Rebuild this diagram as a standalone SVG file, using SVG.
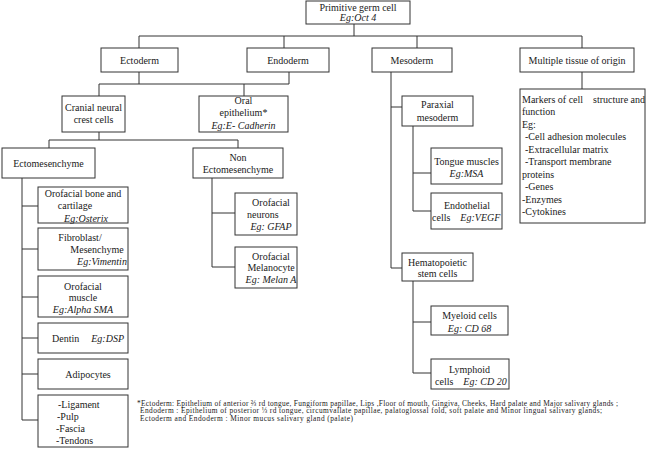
<svg xmlns="http://www.w3.org/2000/svg" width="646" height="449" viewBox="0 0 646 449">
<style>
rect{fill:#fff;stroke:#333;stroke-width:1}
.c path{fill:none;stroke:#333;stroke-width:1}
text{font-family:"Liberation Serif","Times New Roman",serif;font-size:10px;fill:#1a1a1a}
.m{text-anchor:middle}
.i{font-style:italic}
.f{font-size:7.4px}
</style>
<rect x="0" y="0" width="646" height="449" style="stroke:none"/>
<g class="c" id="connectors">
<path d="M354 24V36M139 36H582M139 36V48M284 36V48M417 36V48M582 36V48"/>
<path d="M139 72V84M99 84H289M289 72V84M99 84V96M244 84V96"/>
<path d="M99 132V140M49 140H238M49 140V148M238 140V148"/>
<path d="M22 178V420M22 206H38M22 249H38M22 297H38M22 338H38M22 374H38M22 420H38"/>
<path d="M212 178V267H235M212 213H235"/>
<path d="M391 72V268H402M391 107H402"/>
<path d="M413 126V211H431M413 173H431"/>
<path d="M413 281V373H431M413 322H431"/>
<path d="M582 72V89"/>
</g>
<g id="primitive"><rect x="306" y="1" width="104" height="23"/><text class="m" x="358" y="11">Primitive germ cell</text><text class="m i" x="358" y="21">Eg:Oct 4</text></g>
<g id="ectoderm"><rect x="101" y="48" width="77" height="24"/><text class="m" x="139.5" y="63.5">Ectoderm</text></g>
<g id="endoderm"><rect x="247" y="48" width="82" height="24"/><text class="m" x="288" y="63.5">Endoderm</text></g>
<g id="mesoderm"><rect x="372" y="48" width="80" height="24"/><text class="m" x="412" y="63.5">Mesoderm</text></g>
<g id="multiple"><rect x="520" y="48" width="114" height="24"/><text class="m" x="577" y="63.5">Multiple tissue of origin</text></g>
<g id="cranial"><rect x="62" y="96" width="63" height="36"/><text class="m" x="93.5" y="110.5">Cranial neural</text><text class="m" x="93.5" y="122.5">crest cells</text></g>
<g id="oral"><rect x="199" y="96" width="89" height="36"/><text class="m" x="243.5" y="103.5">Oral</text><text class="m" x="243.5" y="116">epithelium*</text><text class="m i" x="243.5" y="128.5">Eg:E- Cadherin</text></g>
<g id="ectomesenchyme"><rect x="2" y="148" width="93" height="30"/><text class="m" x="48.5" y="166.5">Ectomesenchyme</text></g>
<g id="nonecto"><rect x="193" y="148" width="90" height="30"/><text class="m" x="238" y="160.5">Non</text><text class="m" x="238" y="172.5">Ectomesenchyme</text></g>
<g id="bone"><rect x="38" y="187" width="90" height="36"/><text class="m" x="83" y="196.5">Orofacial bone and</text><text class="m" x="75" y="209">cartilage</text><text class="m i" x="86" y="221.5">Eg:Osterix</text></g>
<g id="fibroblast"><rect x="38" y="228" width="90" height="42"/><text class="m" x="80" y="240.5">Fibroblast/</text><text class="m" x="97" y="252.5">Mesenchyme</text><text class="m i" x="102" y="264.5">Eg:Vimentin</text></g>
<g id="muscle"><rect x="38" y="276" width="90" height="41"/><text class="m" x="83" y="289.5">Orofacial</text><text class="m" x="83" y="301">muscle</text><text class="m i" x="83" y="312.5">Eg:Alpha SMA</text></g>
<g id="dentin"><rect x="38" y="323" width="90" height="30"/><text x="52" y="341.5">Dentin<tspan class="i" dx="12">Eg:DSP</tspan></text></g>
<g id="adipocytes"><rect x="38" y="359" width="90" height="30"/><text class="m" x="88" y="377.5">Adipocytes</text></g>
<g id="ligament"><rect x="38" y="395" width="90" height="52"/><text x="58" y="407.5">-Ligament</text><text x="57" y="420">-Pulp</text><text x="56" y="431.5">-Fascia</text><text x="56" y="443.5">-Tendons</text></g>
<g id="neurons"><rect x="235" y="193" width="62" height="42"/><text class="m" x="271" y="205.5">Orofacial</text><text x="247" y="217.5">neurons</text><text class="m i" x="271" y="229.5">Eg: GFAP</text></g>
<g id="melanocyte"><rect x="235" y="247" width="62" height="41"/><text class="m" x="271" y="259.5">Orofacial</text><text class="m" x="271" y="271">Melanocyte</text><text class="m i" x="271" y="282.5">Eg: Melan A</text></g>
<g id="paraxial"><rect x="402" y="96" width="71" height="30"/><text class="m" x="437.5" y="107.5">Paraxial</text><text class="m" x="437.5" y="121">mesoderm</text></g>
<g id="tongue"><rect x="431" y="148" width="71" height="36"/><text class="m" x="466.5" y="164.5">Tongue muscles</text><text class="m i" x="466.5" y="176.5">Eg:MSA</text></g>
<g id="endothelial"><rect x="431" y="193" width="71" height="36"/><text class="m" x="467" y="208.5">Endothelial</text><text x="432" y="220.5">cells<tspan class="i" dx="10">Eg:VEGF</tspan></text></g>
<g id="hematopoietic"><rect x="402" y="253" width="71" height="28"/><text class="m" x="437.5" y="265.5">Hematopoietic</text><text class="m" x="437.5" y="276.5">stem cells</text></g>
<g id="myeloid"><rect x="431" y="306" width="77" height="29"/><text class="m" x="469.5" y="318.5">Myeloid cells</text><text class="m i" x="469.5" y="331.5">Eg: CD 68</text></g>
<g id="lymphoid"><rect x="431" y="359" width="78" height="30"/><text class="m" x="469.5" y="372.5">Lymphoid</text><text x="435" y="384.5">cells<tspan class="i" dx="10">Eg: CD 20</tspan></text></g>
<g id="markers"><rect x="520" y="89" width="125" height="134"/>
<text x="522" y="102.5">Markers of cell<tspan dx="10">structure and</tspan></text>
<text x="522" y="115">function</text>
<text x="522" y="127.5">Eg:</text>
<text x="525" y="140">-Cell adhesion molecules</text>
<text x="525" y="152.5">-Extracellular matrix</text>
<text x="525" y="165">-Transport membrane</text>
<text x="522" y="177.5">proteins</text>
<text x="525" y="190">-Genes</text>
<text x="522" y="202.5">-Enzymes</text>
<text x="522" y="215">-Cytokines</text>
</g>
<g id="footnote">
<text class="f" x="137" y="405.5" textLength="481" lengthAdjust="spacing">*Ectoderm: Epithelium of anterior ⅔ rd  tongue, Fungiform papillae, Lips ,Floor of mouth, Gingiva, Cheeks, Hard palate and Major salivary glands ;</text>
<text class="f" x="140" y="413" textLength="462" lengthAdjust="spacing">Endoderm : Epithelium of posterior ⅓ rd tongue, circumvallate papillae, palatoglossal fold, soft palate and Minor lingual salivary glands;</text>
<text class="f" x="140" y="420.5" textLength="213" lengthAdjust="spacing">Ectoderm and Endoderm : Minor mucus salivary gland (palate)</text>
</g>
</svg>
